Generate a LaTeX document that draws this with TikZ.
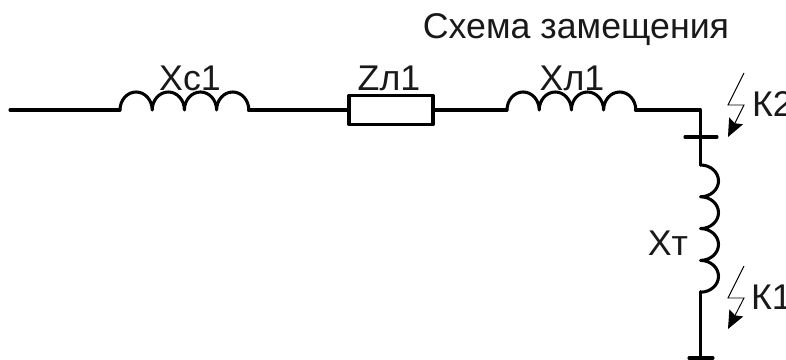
\documentclass[tikz,border=0pt]{standalone}
\usepackage{fontspec}
\setmainfont{Liberation Sans}
\usetikzlibrary{arrows.meta}
\tikzset{
  wire/.style={line width=2.3pt,line cap=round,line join=round,black},
  bolt/.style={line width=0.7pt,black,-{Stealth[length=13.5pt,width=11.5pt,inset=2pt]}},
  lbl/.style={inner sep=0pt,outer sep=0pt,anchor=base,font=\fontsize{26.8}{30}\selectfont,text=black!90},
  res/.style={draw,wire,minimum width=63pt,minimum height=21.75pt,inner sep=0pt,outer sep=0pt},
}
\newcommand{\coilH}[1]{\draw[wire] (#1) arc[start angle=180,end angle=0,x radius=16.1,y radius=18] arc[start angle=180,end angle=0,x radius=16.1,y radius=18] arc[start angle=180,end angle=0,x radius=16.1,y radius=18] arc[start angle=180,end angle=0,x radius=16.1,y radius=18];}
\newcommand{\coilV}[1]{\draw[wire] (#1) arc[start angle=90,end angle=-90,x radius=18,y radius=15.9] arc[start angle=90,end angle=-90,x radius=18,y radius=15.9] arc[start angle=90,end angle=-90,x radius=18,y radius=15.9] arc[start angle=90,end angle=-90,x radius=18,y radius=15.9];}
\begin{document}
\begin{tikzpicture}[x=0.75pt,y=0.75pt]
\useasboundingbox (0,0) rectangle (786,360);
% coordinates
\coordinate (start) at (10,250);
\coordinate (c1a) at (120,250);
\coordinate (c1b) at (248.4,250);
\node[res] (zl) at (391,250) {};
\coordinate (c2a) at (507,250);
\coordinate (c2b) at (635.4,250);
\coordinate (corner) at (700.5,250);
\coordinate (c3a) at (700.5,195);
\coordinate (c3b) at (700.5,68.4);
\coordinate (end) at (700.5,2);
\coordinate (t1l) at (685,223);
\coordinate (t1r) at (717,223);
\coordinate (t2l) at (689,2);
\coordinate (t2r) at (713,2);
% wires
\draw[wire] (start) -- (c1a);
\coilH{c1a}
\draw[wire] (c1b) -- (zl.west);
\draw[wire] (zl.east) -- (c2a);
\coilH{c2a}
\draw[wire] (c2b) -- (corner) -- (c3a);
\coilV{c3a}
\draw[wire] (c3b) -- (end);
\draw[wire] (t1l) -- (t1r);
\draw[wire] (t2l) -- (t2r);
% fault arrows
\coordinate (k2a) at (744,287);
\coordinate (k2b) at (728,255);
\coordinate (k2c) at (744,255);
\coordinate (k2d) at (728,223);
\draw[bolt] (k2a) -- (k2b) -- (k2c) -- (k2d);
\coordinate (k1a) at (744,94);
\coordinate (k1b) at (728,62);
\coordinate (k1c) at (744,62);
\coordinate (k1d) at (728,31);
\draw[bolt] (k1a) -- (k1b) -- (k1c) -- (k1d);
% labels
\node[lbl] (title) at (576,321) {Схема замещения};
\node[lbl] (xc) at (190,269) {Xс1};
\node[lbl] (zlt) at (389,269) {Zл1};
\node[lbl] (xl) at (572,269) {Xл1};
\node[lbl] (xt) at (668,104) {Xт};
\node[lbl,anchor=base west] (k2) at (752,243) {К2};
\node[lbl,anchor=base west] (k1) at (751,50) {К1};
\end{tikzpicture}
\end{document}
